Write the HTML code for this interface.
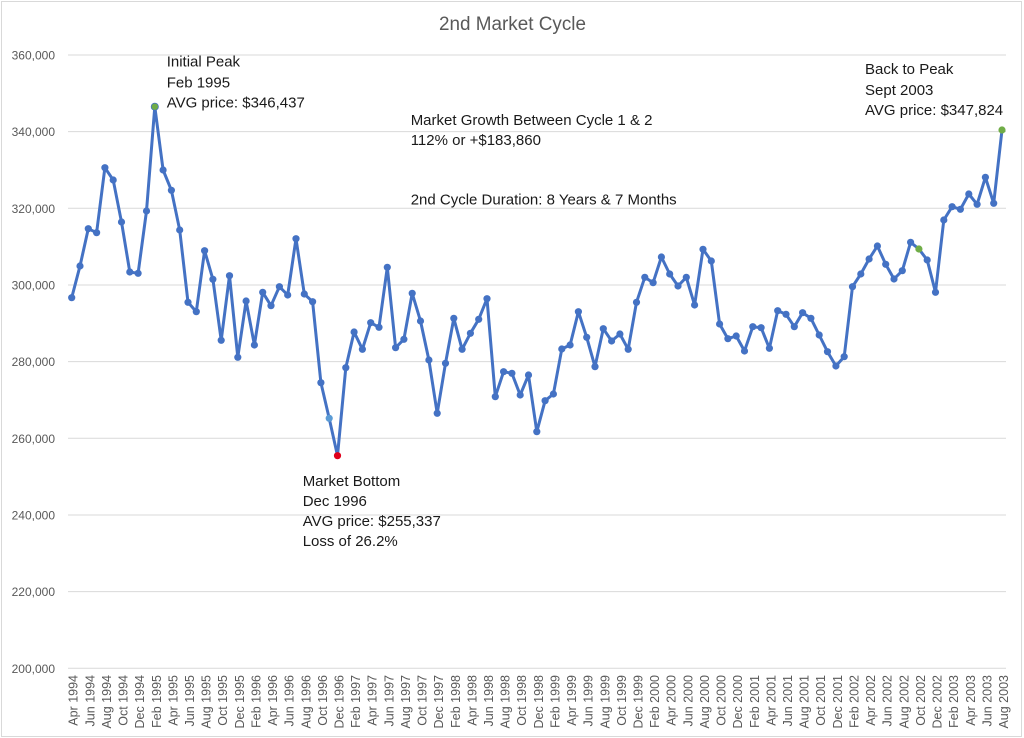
<!DOCTYPE html>
<html><head><meta charset="utf-8"><style>
html,body{margin:0;padding:0;background:#fff;width:1024px;height:738px;overflow:hidden}
svg{display:block}
.yl{font-family:"Liberation Sans",sans-serif;font-size:12px;fill:#595959;text-anchor:end}
.xl{font-family:"Liberation Sans",sans-serif;font-size:12.5px;fill:#595959;text-anchor:end}
.an{font-family:"Liberation Sans",sans-serif;font-size:15px;fill:#1a1a1a}
</style></head><body>
<svg width="1024" height="738" viewBox="0 0 1024 738" xmlns="http://www.w3.org/2000/svg">
<rect x="0" y="0" width="1024" height="738" fill="#fff"/>
<rect x="1.5" y="1.5" width="1020" height="735" fill="none" stroke="#d9d9d9" stroke-width="1"/>
<text x="512.5" y="30" text-anchor="middle" font-family="Liberation Sans, sans-serif" font-size="19" fill="#595959" textLength="147" lengthAdjust="spacingAndGlyphs">2nd Market Cycle</text>
<g stroke="#d9d9d9" stroke-width="1">
<line x1="68" y1="55" x2="1006" y2="55"/>
<line x1="68" y1="131.6" x2="1006" y2="131.6"/>
<line x1="68" y1="208.3" x2="1006" y2="208.3"/>
<line x1="68" y1="285" x2="1006" y2="285"/>
<line x1="68" y1="361.6" x2="1006" y2="361.6"/>
<line x1="68" y1="438.3" x2="1006" y2="438.3"/>
<line x1="68" y1="515" x2="1006" y2="515"/>
<line x1="68" y1="591.6" x2="1006" y2="591.6"/>
<line x1="68" y1="668.3" x2="1006" y2="668.3"/>
</g>
<text class="yl" x="55" y="59.5">360,000</text>
<text class="yl" x="55" y="136.1">340,000</text>
<text class="yl" x="55" y="212.8">320,000</text>
<text class="yl" x="55" y="289.5">300,000</text>
<text class="yl" x="55" y="366.1">280,000</text>
<text class="yl" x="55" y="442.8">260,000</text>
<text class="yl" x="55" y="519.5">240,000</text>
<text class="yl" x="55" y="596.1">220,000</text>
<text class="yl" x="55" y="672.8">200,000</text>
<polyline fill="none" stroke="#4472C4" stroke-width="3" stroke-linejoin="round" stroke-linecap="round" points="71.7,297.7 80.0,266 88.3,228.7 96.6,232.7 104.9,167.7 113.2,180 121.5,222 129.8,272 138.1,273.3 146.5,211 154.8,106.7 163.1,170 171.4,190.3 179.7,230 188.0,302.3 196.3,311.7 204.6,250.7 212.9,279.3 221.2,340.3 229.5,275.7 237.8,357.3 246.1,301 254.4,345 262.7,292.3 271.0,305.7 279.4,286.7 287.7,295 296.0,238.7 304.3,294 312.6,301.7 320.9,382.7 329.2,418.3 337.5,455.7 345.8,367.7 354.1,332 362.4,349.3 370.7,322.7 379.0,327.3 387.3,267.3 395.6,347.7 403.9,339.3 412.2,293.3 420.5,321 428.9,360 437.2,413.3 445.5,363.3 453.8,318.3 462.1,349.3 470.4,333.3 478.7,319.3 487.0,298.7 495.3,396.7 503.6,371.7 511.9,373.3 520.2,395 528.5,375 536.8,431.7 545.1,400.7 553.4,394 561.8,349 570.1,345 578.4,311.7 586.7,337.3 595.0,366.7 603.3,328.7 611.6,341 619.9,334 628.2,349.3 636.5,302.3 644.8,277.3 653.1,282.7 661.4,257 669.7,274 678.0,286 686.3,277.3 694.6,305 703.0,249.3 711.3,261 719.6,324 727.9,338.7 736.2,336 744.5,351 752.8,326.7 761.1,327.7 769.4,348.3 777.7,310.7 786.0,314.3 794.3,326.7 802.6,312.7 810.9,318.3 819.2,335 827.5,351.7 835.9,366 844.2,356.7 852.5,286.7 860.8,274 869.1,259 877.4,246 885.7,264.3 894.0,279 902.3,270.7 910.6,242.3 918.9,249 927.2,260 935.5,292.3 943.8,220 952.1,206.7 960.4,209.3 968.8,194 977.1,204.3 985.4,177.3 993.7,203.3 1002.0,130"/>
<g fill="#4472C4">
<circle cx="71.7" cy="297.7" r="3.6"/><circle cx="80.0" cy="266" r="3.6"/><circle cx="88.3" cy="228.7" r="3.6"/><circle cx="96.6" cy="232.7" r="3.6"/><circle cx="104.9" cy="167.7" r="3.6"/><circle cx="113.2" cy="180" r="3.6"/><circle cx="121.5" cy="222" r="3.6"/><circle cx="129.8" cy="272" r="3.6"/><circle cx="138.1" cy="273.3" r="3.6"/><circle cx="146.5" cy="211" r="3.6"/>
<circle cx="163.1" cy="170" r="3.6"/><circle cx="171.4" cy="190.3" r="3.6"/><circle cx="179.7" cy="230" r="3.6"/><circle cx="188.0" cy="302.3" r="3.6"/><circle cx="196.3" cy="311.7" r="3.6"/><circle cx="204.6" cy="250.7" r="3.6"/><circle cx="212.9" cy="279.3" r="3.6"/><circle cx="221.2" cy="340.3" r="3.6"/><circle cx="229.5" cy="275.7" r="3.6"/><circle cx="237.8" cy="357.3" r="3.6"/>
<circle cx="246.1" cy="301" r="3.6"/><circle cx="254.4" cy="345" r="3.6"/><circle cx="262.7" cy="292.3" r="3.6"/><circle cx="271.0" cy="305.7" r="3.6"/><circle cx="279.4" cy="286.7" r="3.6"/><circle cx="287.7" cy="295" r="3.6"/><circle cx="296.0" cy="238.7" r="3.6"/><circle cx="304.3" cy="294" r="3.6"/><circle cx="312.6" cy="301.7" r="3.6"/><circle cx="320.9" cy="382.7" r="3.6"/>
<circle cx="345.8" cy="367.7" r="3.6"/><circle cx="354.1" cy="332" r="3.6"/><circle cx="362.4" cy="349.3" r="3.6"/><circle cx="370.7" cy="322.7" r="3.6"/><circle cx="379.0" cy="327.3" r="3.6"/><circle cx="387.3" cy="267.3" r="3.6"/><circle cx="395.6" cy="347.7" r="3.6"/><circle cx="403.9" cy="339.3" r="3.6"/><circle cx="412.2" cy="293.3" r="3.6"/><circle cx="420.5" cy="321" r="3.6"/>
<circle cx="428.9" cy="360" r="3.6"/><circle cx="437.2" cy="413.3" r="3.6"/><circle cx="445.5" cy="363.3" r="3.6"/><circle cx="453.8" cy="318.3" r="3.6"/><circle cx="462.1" cy="349.3" r="3.6"/><circle cx="470.4" cy="333.3" r="3.6"/><circle cx="478.7" cy="319.3" r="3.6"/><circle cx="487.0" cy="298.7" r="3.6"/><circle cx="495.3" cy="396.7" r="3.6"/><circle cx="503.6" cy="371.7" r="3.6"/>
<circle cx="511.9" cy="373.3" r="3.6"/><circle cx="520.2" cy="395" r="3.6"/><circle cx="528.5" cy="375" r="3.6"/><circle cx="536.8" cy="431.7" r="3.6"/><circle cx="545.1" cy="400.7" r="3.6"/><circle cx="553.4" cy="394" r="3.6"/><circle cx="561.8" cy="349" r="3.6"/><circle cx="570.1" cy="345" r="3.6"/><circle cx="578.4" cy="311.7" r="3.6"/><circle cx="586.7" cy="337.3" r="3.6"/>
<circle cx="595.0" cy="366.7" r="3.6"/><circle cx="603.3" cy="328.7" r="3.6"/><circle cx="611.6" cy="341" r="3.6"/><circle cx="619.9" cy="334" r="3.6"/><circle cx="628.2" cy="349.3" r="3.6"/><circle cx="636.5" cy="302.3" r="3.6"/><circle cx="644.8" cy="277.3" r="3.6"/><circle cx="653.1" cy="282.7" r="3.6"/><circle cx="661.4" cy="257" r="3.6"/><circle cx="669.7" cy="274" r="3.6"/>
<circle cx="678.0" cy="286" r="3.6"/><circle cx="686.3" cy="277.3" r="3.6"/><circle cx="694.6" cy="305" r="3.6"/><circle cx="703.0" cy="249.3" r="3.6"/><circle cx="711.3" cy="261" r="3.6"/><circle cx="719.6" cy="324" r="3.6"/><circle cx="727.9" cy="338.7" r="3.6"/><circle cx="736.2" cy="336" r="3.6"/><circle cx="744.5" cy="351" r="3.6"/><circle cx="752.8" cy="326.7" r="3.6"/>
<circle cx="761.1" cy="327.7" r="3.6"/><circle cx="769.4" cy="348.3" r="3.6"/><circle cx="777.7" cy="310.7" r="3.6"/><circle cx="786.0" cy="314.3" r="3.6"/><circle cx="794.3" cy="326.7" r="3.6"/><circle cx="802.6" cy="312.7" r="3.6"/><circle cx="810.9" cy="318.3" r="3.6"/><circle cx="819.2" cy="335" r="3.6"/><circle cx="827.5" cy="351.7" r="3.6"/><circle cx="835.9" cy="366" r="3.6"/>
<circle cx="844.2" cy="356.7" r="3.6"/><circle cx="852.5" cy="286.7" r="3.6"/><circle cx="860.8" cy="274" r="3.6"/><circle cx="869.1" cy="259" r="3.6"/><circle cx="877.4" cy="246" r="3.6"/><circle cx="885.7" cy="264.3" r="3.6"/><circle cx="894.0" cy="279" r="3.6"/><circle cx="902.3" cy="270.7" r="3.6"/><circle cx="910.6" cy="242.3" r="3.6"/>
<circle cx="927.2" cy="260" r="3.6"/><circle cx="935.5" cy="292.3" r="3.6"/><circle cx="943.8" cy="220" r="3.6"/><circle cx="952.1" cy="206.7" r="3.6"/><circle cx="960.4" cy="209.3" r="3.6"/><circle cx="968.8" cy="194" r="3.6"/><circle cx="977.1" cy="204.3" r="3.6"/><circle cx="985.4" cy="177.3" r="3.6"/><circle cx="993.7" cy="203.3" r="3.6"/>
</g>
<circle cx="154.8" cy="106.7" r="3.6" fill="#70AD47" stroke="#4472C4" stroke-width="0.8"/>
<circle cx="329.2" cy="418.3" r="3.6" fill="#5B9BD5"/>
<circle cx="337.5" cy="455.7" r="3.6" fill="#E0001B"/>
<circle cx="918.9" cy="249" r="3.6" fill="#70AD47"/>
<circle cx="1002.0" cy="130" r="3.6" fill="#70AD47"/>
<text class="an" x="166.7" y="66.7">Initial Peak</text>
<text class="an" x="166.7" y="87.3">Feb 1995</text>
<text class="an" x="166.7" y="107.5">AVG price: $346,437</text>
<text class="an" x="410.7" y="125">Market Growth Between Cycle 1 &amp; 2</text>
<text class="an" x="410.7" y="145">112% or +$183,860</text>
<text class="an" x="410.7" y="204.5">2nd Cycle Duration: 8 Years &amp; 7 Months</text>
<text class="an" x="865" y="74">Back to Peak</text>
<text class="an" x="865" y="95">Sept 2003</text>
<text class="an" x="865" y="115">AVG price: $347,824</text>
<text class="an" x="302.7" y="486">Market Bottom</text>
<text class="an" x="302.7" y="506">Dec 1996</text>
<text class="an" x="302.7" y="526">AVG price: $255,337</text>
<text class="an" x="302.7" y="546">Loss of 26.2%</text>
<g class="xl">
<text class="xl" transform="translate(77.7,675) rotate(-90)">Apr 1994</text>
<text class="xl" transform="translate(94.3,675) rotate(-90)">Jun 1994</text>
<text class="xl" transform="translate(110.9,675) rotate(-90)">Aug 1994</text>
<text class="xl" transform="translate(127.5,675) rotate(-90)">Oct 1994</text>
<text class="xl" transform="translate(144.1,675) rotate(-90)">Dec 1994</text>
<text class="xl" transform="translate(160.8,675) rotate(-90)">Feb 1995</text>
<text class="xl" transform="translate(177.4,675) rotate(-90)">Apr 1995</text>
<text class="xl" transform="translate(194.0,675) rotate(-90)">Jun 1995</text>
<text class="xl" transform="translate(210.6,675) rotate(-90)">Aug 1995</text>
<text class="xl" transform="translate(227.2,675) rotate(-90)">Oct 1995</text>
<text class="xl" transform="translate(243.8,675) rotate(-90)">Dec 1995</text>
<text class="xl" transform="translate(260.4,675) rotate(-90)">Feb 1996</text>
<text class="xl" transform="translate(277.0,675) rotate(-90)">Apr 1996</text>
<text class="xl" transform="translate(293.7,675) rotate(-90)">Jun 1996</text>
<text class="xl" transform="translate(310.3,675) rotate(-90)">Aug 1996</text>
<text class="xl" transform="translate(326.9,675) rotate(-90)">Oct 1996</text>
<text class="xl" transform="translate(343.5,675) rotate(-90)">Dec 1996</text>
<text class="xl" transform="translate(360.1,675) rotate(-90)">Feb 1997</text>
<text class="xl" transform="translate(376.7,675) rotate(-90)">Apr 1997</text>
<text class="xl" transform="translate(393.3,675) rotate(-90)">Jun 1997</text>
<text class="xl" transform="translate(409.9,675) rotate(-90)">Aug 1997</text>
<text class="xl" transform="translate(426.5,675) rotate(-90)">Oct 1997</text>
<text class="xl" transform="translate(443.2,675) rotate(-90)">Dec 1997</text>
<text class="xl" transform="translate(459.8,675) rotate(-90)">Feb 1998</text>
<text class="xl" transform="translate(476.4,675) rotate(-90)">Apr 1998</text>
<text class="xl" transform="translate(493.0,675) rotate(-90)">Jun 1998</text>
<text class="xl" transform="translate(509.6,675) rotate(-90)">Aug 1998</text>
<text class="xl" transform="translate(526.2,675) rotate(-90)">Oct 1998</text>
<text class="xl" transform="translate(542.8,675) rotate(-90)">Dec 1998</text>
<text class="xl" transform="translate(559.4,675) rotate(-90)">Feb 1999</text>
<text class="xl" transform="translate(576.1,675) rotate(-90)">Apr 1999</text>
<text class="xl" transform="translate(592.7,675) rotate(-90)">Jun 1999</text>
<text class="xl" transform="translate(609.3,675) rotate(-90)">Aug 1999</text>
<text class="xl" transform="translate(625.9,675) rotate(-90)">Oct 1999</text>
<text class="xl" transform="translate(642.5,675) rotate(-90)">Dec 1999</text>
<text class="xl" transform="translate(659.1,675) rotate(-90)">Feb 2000</text>
<text class="xl" transform="translate(675.7,675) rotate(-90)">Apr 2000</text>
<text class="xl" transform="translate(692.3,675) rotate(-90)">Jun 2000</text>
<text class="xl" transform="translate(709.0,675) rotate(-90)">Aug 2000</text>
<text class="xl" transform="translate(725.6,675) rotate(-90)">Oct 2000</text>
<text class="xl" transform="translate(742.2,675) rotate(-90)">Dec 2000</text>
<text class="xl" transform="translate(758.8,675) rotate(-90)">Feb 2001</text>
<text class="xl" transform="translate(775.4,675) rotate(-90)">Apr 2001</text>
<text class="xl" transform="translate(792.0,675) rotate(-90)">Jun 2001</text>
<text class="xl" transform="translate(808.6,675) rotate(-90)">Aug 2001</text>
<text class="xl" transform="translate(825.2,675) rotate(-90)">Oct 2001</text>
<text class="xl" transform="translate(841.9,675) rotate(-90)">Dec 2001</text>
<text class="xl" transform="translate(858.5,675) rotate(-90)">Feb 2002</text>
<text class="xl" transform="translate(875.1,675) rotate(-90)">Apr 2002</text>
<text class="xl" transform="translate(891.7,675) rotate(-90)">Jun 2002</text>
<text class="xl" transform="translate(908.3,675) rotate(-90)">Aug 2002</text>
<text class="xl" transform="translate(924.9,675) rotate(-90)">Oct 2002</text>
<text class="xl" transform="translate(941.5,675) rotate(-90)">Dec 2002</text>
<text class="xl" transform="translate(958.1,675) rotate(-90)">Feb 2003</text>
<text class="xl" transform="translate(974.8,675) rotate(-90)">Apr 2003</text>
<text class="xl" transform="translate(991.4,675) rotate(-90)">Jun 2003</text>
<text class="xl" transform="translate(1008.0,675) rotate(-90)">Aug 2003</text>
</g>
</svg>
</body></html>
